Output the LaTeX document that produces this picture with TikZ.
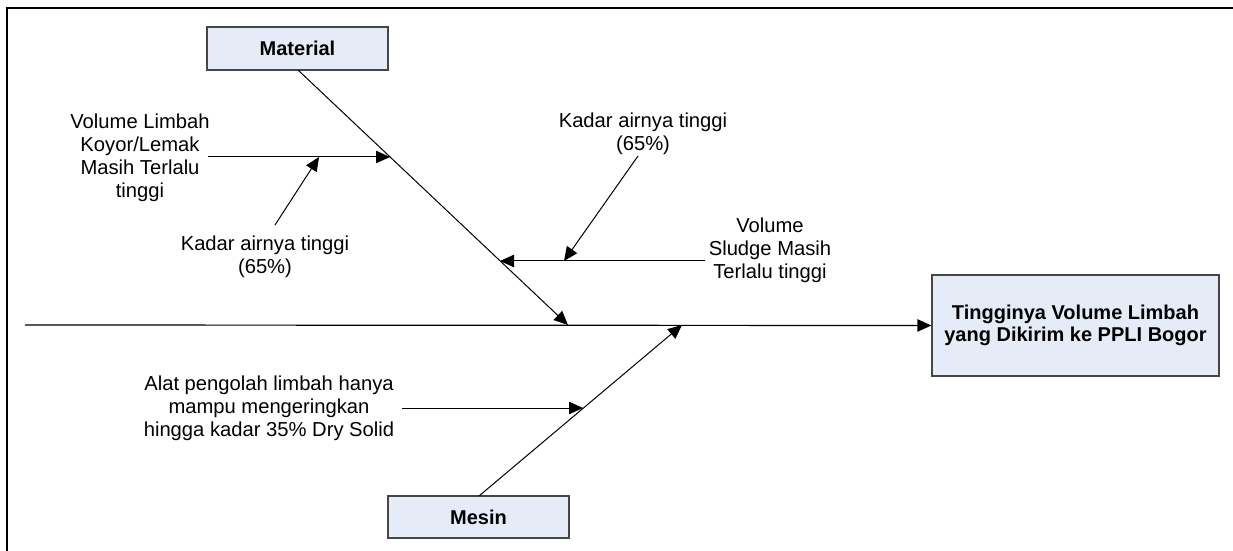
\documentclass[tikz,border=0pt]{standalone}
\usepackage{fontspec}
\setmainfont{Liberation Sans}
\usetikzlibrary{arrows.meta}
\definecolor{boxfill}{RGB}{230,236,247}
\definecolor{boxline}{RGB}{70,70,70}
\begin{document}
\begin{tikzpicture}[x=0.5pt,y=-0.5pt,
  box/.style={draw=boxline, fill=boxfill, line width=0.6pt, inner sep=0pt, align=center,
    font=\fontsize{10}{11}\selectfont\bfseries},
  lbl/.style={align=center, inner sep=0pt, font=\fontsize{10.1}{11.5}\selectfont},
  arr/.style={-{Triangle[length=7pt,width=6.2pt]}, line width=0.5pt},
  frame/.style={line width=1pt}]
\useasboundingbox (0,0) rectangle (1233,551);
% frame
\coordinate (f1) at (7,551);
\coordinate (f2) at (7,8);
\coordinate (f3) at (1233,8);
\draw[frame] (f1) -- (f2) -- (f3);
% boxes
\node[box, minimum width=90.5pt, minimum height=21.5pt] (mat) at (297.5,48.5) {Material};
\node[box, minimum width=90.5pt, minimum height=21pt] (mes) at (478.5,517) {Mesin};
\node[box, minimum width=143.5pt, minimum height=50.5pt] (eff) at (1075.5,325.5)
  {Tingginya Volume Limbah\\yang Dikirim ke PPLI Bogor};
% labels
\node[lbl] (l1) at (140,158) {Volume Limbah\\Koyor/Lemak\\Masih Terlalu\\tinggi};
\node[lbl] (l2) at (265,257) {Kadar airnya tinggi\\(65\%)};
\node[lbl] (l3) at (643,134) {Kadar airnya tinggi\\(65\%)};
\node[lbl] (l4) at (770,250) {Volume\\Sludge Masih\\Terlalu tinggi};
\node[lbl] (l5) at (269,408) {Alat pengolah limbah hanya\\mampu mengeringkan\\hingga kadar 35\% Dry Solid};
% key points
\coordinate (s0) at (25,325);
\coordinate (mtop) at (298,70);
\coordinate (mtip) at (568,325);
\coordinate (j1) at (390,157);
\coordinate (a1s) at (208,157);
\coordinate (j1b) at (319,157);
\coordinate (a1bs) at (275,225);
\coordinate (j2) at (500,261);
\coordinate (a2s) at (705,261);
\coordinate (j2b) at (564,261);
\coordinate (a2bs) at (638,156);
\coordinate (mbot) at (479,496);
\coordinate (ntip) at (682,325);
\coordinate (j3) at (583,408);
\coordinate (a3s) at (402,408);
% spine
\draw[arr, line width=0.6pt] (s0) -- (eff.west);
% material bone
\draw[arr] (mtop) -- (mtip);
\draw[arr] (a1s) -- (j1);
\draw[arr] (a1bs) -- (j1b);
\draw[arr] (a2s) -- (j2);
\draw[arr] (a2bs) -- (j2b);
% mesin bone
\draw[arr] (mbot) -- (ntip);
\draw[arr] (a3s) -- (j3);
\end{tikzpicture}
\end{document}
